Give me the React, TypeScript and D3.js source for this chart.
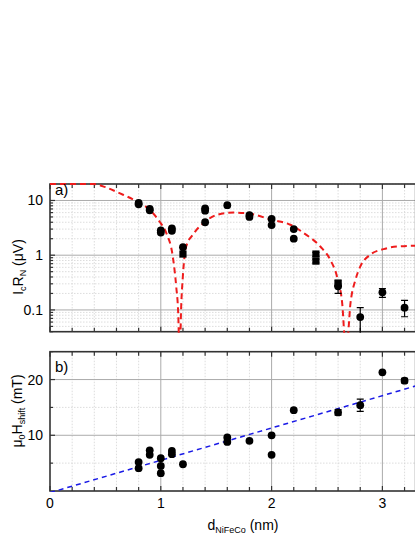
import React from 'react';
import * as d3 from 'd3';

// --- data ---
const xMajor = [0, 1, 2, 3];
const xMinor = [0.2, 0.4, 0.6, 0.8, 1.2, 1.4, 1.6, 1.8, 2.2, 2.4, 2.6, 2.8, 3.2];

const topMajor = [0.1, 1, 10];
const topMajorLabels = ['0.1', '1', '10'];
const topMinor = [0.04, 0.05, 0.06, 0.07, 0.08, 0.09, 0.2, 0.3, 0.4, 0.5, 0.6, 0.7, 0.8, 0.9, 2, 3, 4, 5, 6, 7, 8, 9, 20];

const botMajor = [10, 20];
const botMajorLabels = ['10', '20'];
const botMinor = [5, 15, 25];

// IcRn (µV): [d, value, errLow, errHigh]
const icrnCircles: [number, number, number?, number?][] = [
    [0.8, 9.0], [0.8, 8.5], [0.9, 7.0], [0.9, 6.6],
    [1.0, 2.85], [1.0, 2.6], [1.1, 3.1], [1.1, 2.8], [1.2, 1.4],
    [1.4, 7.2], [1.4, 6.5], [1.4, 4.0], [1.6, 8.2],
    [1.8, 5.4], [1.8, 5.0], [2.0, 4.6], [2.0, 3.55],
    [2.2, 3.0], [2.2, 2.0],
    [2.6, 0.27, 0.2, 0.31],
    [2.8, 0.074, 0.03, 0.11],
    [3.0, 0.21, 0.17, 0.245],
    [3.2, 0.11, 0.075, 0.15],
];
const icrnSquares: [number, number, number?, number?][] = [
    [1.2, 1.05],
    [2.4, 1.05, 0.95, 1.12],
    [2.4, 0.78, 0.72, 0.85],
    [2.6, 0.31, 0.28, 0.34],
];

// fit curve
const icrnFit: [number, number][] = [
    [0, 19.9], [0.2, 20.1], [0.4, 19.9], [0.5, 17.5], [0.627, 13.6], [0.8, 9.2], [0.9, 6.76],
    [0.988, 4.13], [1.05, 2.54], [1.108, 0.95], [1.139, 0.27], [1.157, 0.088], [1.166, 0.025],
    [1.174, 0.025], [1.184, 0.116], [1.199, 0.41], [1.229, 1.44], [1.289, 2.36], [1.4, 4.1],
    [1.509, 5.48], [1.66, 6.0], [1.81, 5.71], [2.0, 4.43], [2.17, 3.6], [2.29, 2.54],
    [2.44, 1.44], [2.53, 0.82], [2.59, 0.41], [2.637, 0.133], [2.666, 0.025],
    [2.68, 0.025], [2.712, 0.133], [2.757, 0.355], [2.8, 0.62], [2.89, 1.02],
    [3.01, 1.29], [3.13, 1.44], [3.3, 1.49],
];

// µ0 Hshift (mT): [d, value, errLow, errHigh]
const hshift: [number, number, number?, number?][] = [
    [0.8, 5.2], [0.8, 4.1], [0.9, 7.3], [0.9, 6.5],
    [1.0, 5.9], [1.0, 4.5], [1.0, 3.2], [1.1, 7.2], [1.1, 6.6], [1.2, 4.8],
    [1.6, 9.6], [1.6, 8.8], [1.8, 9.0], [2.0, 10.0], [2.0, 6.5],
    [2.2, 14.5], [2.6, 14.1, 13.6, 14.6], [2.8, 15.4, 14.3, 16.5],
    [3.0, 21.3], [3.2, 19.8, 19.4, 20.2],
];
const hshiftFit: [number, number][] = [[0, -0.29], [3.3, 18.85]];

// --- layout ---
const W = 415;
const H = 537;
const X0 = 50;
const X1 = 50 + 110.8 * 3.3;
const TOP = { top: 184, bottom: 331.7 };
const BOT = { top: 351.7, bottom: 491 };
const FONT = 'Liberation Sans, Arial, sans-serif';
const AXIS = '#333';

const x = d3.scaleLinear().domain([0, 3.3]).range([X0, X1]);
const yTop = d3.scaleLog().domain([0.04, 20]).range([TOP.bottom, TOP.top]);
const yBot = d3.scaleLinear().domain([0, 25]).range([BOT.bottom, BOT.top]);

const Marker = ({ cx, cy, square }: { cx: number; cy: number; square?: boolean }) =>
    square
        ? <rect x={cx - 3.6} y={cy - 3.6} width={7.2} height={7.2} fill="#000" />
        : <circle cx={cx} cy={cy} r={3.9} fill="#000" />;

const ErrBar = ({ cx, y1, y2 }: { cx: number; y1: number; y2: number }) => (
    <g stroke="#000" strokeWidth={1.2}>
        <line x1={cx} x2={cx} y1={y1} y2={y2} />
        <line x1={cx - 3.5} x2={cx + 3.5} y1={y1} y2={y1} />
        <line x1={cx - 3.5} x2={cx + 3.5} y1={y2} y2={y2} />
    </g>
);

function Frame({ top, bottom, yMajorPos, yMinorPos, clipId }: {
    top: number; bottom: number; yMajorPos: number[]; yMinorPos: number[]; clipId: string;
}) {
    return (
        <g>
            <clipPath id={clipId}>
                <rect x={X0} y={top - 1} width={X1 - X0} height={bottom - top + 2} />
            </clipPath>
            {/* minor grid */}
            <g stroke="#d4d4d4" strokeWidth={0.8} strokeDasharray="1.5,1.5">
                {xMinor.map(v => <line key={'xm' + v} x1={x(v)} x2={x(v)} y1={top} y2={bottom} />)}
                {yMinorPos.map((p, i) => <line key={'ym' + i} x1={X0} x2={X1} y1={p} y2={p} />)}
            </g>
            {/* major grid */}
            <g stroke="#ababab" strokeWidth={1}>
                {xMajor.slice(1).map(v => <line key={'xM' + v} x1={x(v)} x2={x(v)} y1={top} y2={bottom} />)}
                {yMajorPos.map((p, i) => <line key={'yM' + i} x1={X0} x2={X1} y1={p} y2={p} />)}
            </g>
            {/* ticks, inward */}
            <g stroke={AXIS} strokeWidth={1.2}>
                {xMajor.map(v => (
                    <g key={'tM' + v}>
                        <line x1={x(v)} x2={x(v)} y1={bottom} y2={bottom - 5} />
                        <line x1={x(v)} x2={x(v)} y1={top} y2={top + 5} />
                    </g>
                ))}
                {xMinor.map(v => (
                    <g key={'tm' + v}>
                        <line x1={x(v)} x2={x(v)} y1={bottom} y2={bottom - 4} />
                        <line x1={x(v)} x2={x(v)} y1={top} y2={top + 4} />
                    </g>
                ))}
                {yMajorPos.map((p, i) => <line key={'lM' + i} x1={X0} x2={X0 + 5} y1={p} y2={p} />)}
                {yMinorPos.map((p, i) => <line key={'lm' + i} x1={X0} x2={X0 + 3} y1={p} y2={p} />)}
            </g>
            <rect x={X0} y={top} width={X1 - X0} height={bottom - top} fill="none" stroke={AXIS} strokeWidth={1.6} />
        </g>
    );
}

export default function App() {
    const fitLine = d3.line<[number, number]>()
        .x(d => x(d[0]))
        .y(d => yTop(d[1]))
        .curve(d3.curveMonotoneX);
    const blueLine = d3.line<[number, number]>().x(d => x(d[0])).y(d => yBot(d[1]));

    return (
        <svg width={W} height={H} style={{ position: 'absolute', left: 0, top: 0, background: '#fff' }}
            fontFamily={FONT}>
            {/* panel a */}
            <Frame top={TOP.top} bottom={TOP.bottom} clipId="clipA"
                yMajorPos={topMajor.map(v => yTop(v))} yMinorPos={topMinor.map(v => yTop(v))} />
            <g clipPath="url(#clipA)">
                <path d={fitLine(icrnFit) || ''} fill="none" stroke="#ee1c1c" strokeWidth={2} strokeDasharray="6,4" />
                {[...icrnCircles, ...icrnSquares].filter(p => p[2] !== undefined).map((p, i) => (
                    <ErrBar key={'ea' + i} cx={x(p[0])} y1={yTop(p[2]!)} y2={yTop(p[3]!)} />
                ))}
                {icrnCircles.map((p, i) => <Marker key={'ca' + i} cx={x(p[0])} cy={yTop(p[1])} />)}
                {icrnSquares.map((p, i) => <Marker key={'sa' + i} cx={x(p[0])} cy={yTop(p[1])} square />)}
            </g>
            {topMajor.map((v, i) => (
                <text key={'la' + v} x={43} y={yTop(v) + 5} textAnchor="end" fontSize={14}>{topMajorLabels[i]}</text>
            ))}
            <text x={55} y={195} fontSize={15}>a)</text>
            <text transform={`translate(23, 267) rotate(-90)`} textAnchor="middle" fontSize={14}>
                I<tspan fontSize={9} dy={3}>c</tspan><tspan dy={-3}>R</tspan><tspan fontSize={9} dy={3}>N</tspan><tspan dy={-3}> (μV)</tspan>
            </text>

            {/* panel b */}
            <Frame top={BOT.top} bottom={BOT.bottom} clipId="clipB"
                yMajorPos={botMajor.map(v => yBot(v))} yMinorPos={botMinor.map(v => yBot(v))} />
            <g clipPath="url(#clipB)">
                <path d={blueLine(hshiftFit) || ''} fill="none" stroke="#1a1ae6" strokeWidth={1.5} strokeDasharray="5,4" />
                {hshift.filter(p => p[2] !== undefined).map((p, i) => (
                    <ErrBar key={'eb' + i} cx={x(p[0])} y1={yBot(p[2]!)} y2={yBot(p[3]!)} />
                ))}
                {hshift.map((p, i) => <Marker key={'cb' + i} cx={x(p[0])} cy={yBot(p[1])} />)}
            </g>
            {botMajor.map((v, i) => (
                <text key={'lb' + v} x={43} y={yBot(v) + 5} textAnchor="end" fontSize={14}>{botMajorLabels[i]}</text>
            ))}
            <text x={55} y={372} fontSize={15}>b)</text>
            <text transform={`translate(22, 411) rotate(-90)`} textAnchor="middle" fontSize={14}>
                μ<tspan fontSize={9} dy={3}>0</tspan><tspan dy={-3}>H</tspan><tspan fontSize={9} dy={3}>shift</tspan><tspan dy={-3}> (mT)</tspan>
            </text>

            {xMajor.map(v => (
                <text key={'xl' + v} x={x(v)} y={508} textAnchor="middle" fontSize={14}>{v}</text>
            ))}
            <text x={243} y={530} textAnchor="middle" fontSize={14}>
                d<tspan fontSize={9} dy={3}>NiFeCo</tspan><tspan dy={-3}> (nm)</tspan>
            </text>
        </svg>
    );
}
